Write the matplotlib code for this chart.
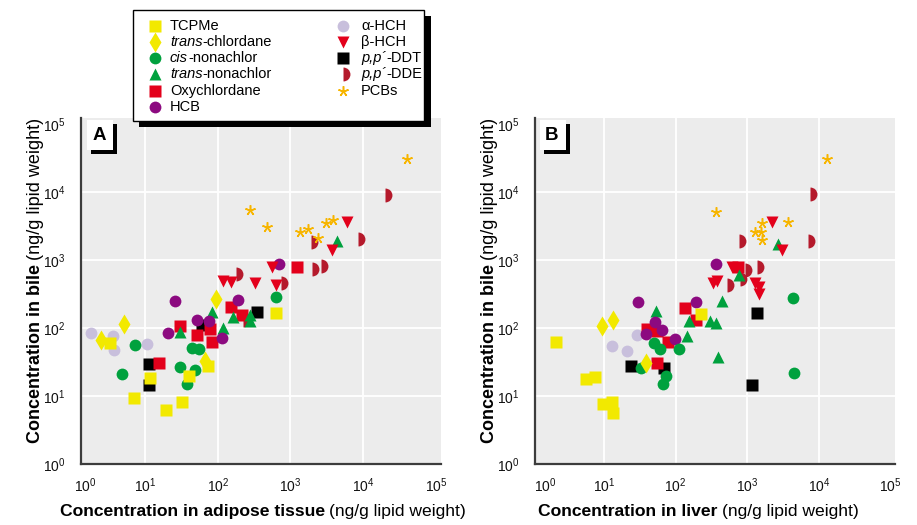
import matplotlib
matplotlib.use('Agg')
import matplotlib.pyplot as plt
from matplotlib.patches import Rectangle
from matplotlib.ticker import FixedLocator, FixedFormatter

FONT = 'Liberation Sans'
plt.rcParams['font.family'] = [FONT, 'DejaVu Sans']
plt.rcParams['mathtext.fontset'] = 'custom'
plt.rcParams['mathtext.rm'] = FONT
plt.rcParams['mathtext.it'] = FONT + ':italic'
plt.rcParams['mathtext.bf'] = FONT + ':bold'

# ---------------- data: panel A (adipose tissue vs bile) ----------------
tcpme_adipose = [634, 3.3, 74, 11.7, 40, 7.1, 32, 19.4]
tcpme_bileA = [166, 60, 27.6, 18.4, 19.7, 9.4, 8.2, 6.2]
tchl_adipose = [95, 5.1, 2.5, 67]
tchl_bileA = [267, 114, 67, 33]
cisn_adipose = [634, 7.3, 44, 55, 4.8, 30, 49, 38]
cisn_bileA = [286, 56, 51, 49, 21, 27, 24, 15]
tnon_adipose = [4375, 84, 162, 278, 278, 118, 30]
tnon_bileA = [1900, 172, 145, 155, 127, 100, 87]
oxy_adipose = [1233, 152, 216, 30, 52, 78, 84, 15.6]
oxy_bileA = [789, 204, 155, 107, 79, 97, 62, 31]
hcb_adipose = [697, 190, 26, 52, 76, 21, 115]
hcb_bileA = [873, 258, 249, 131, 127, 84, 71]
ahch_adipose = [1.8, 3.6, 3.75, 10.7]
ahch_bileA = [84, 76, 47.5, 58]
bhch_adipose = [6000, 3730, 558, 118, 152, 326, 634]
bhch_bileA = [3620, 1400, 789, 491, 475, 459, 429]
ddt_adipose = [348, 61, 11.4, 11.4]
ddt_bileA = [172, 111, 29.5, 14.5]
dde_adipose = [20000, 8510, 1920, 2640, 1980, 179, 743, 223]
dde_bileA = [9035, 2036, 1840, 816, 737, 623, 459, 131]
pcb_adipose = [40200, 278, 476, 1355, 1746, 2400, 3090, 3855]
pcb_bileA = [30550, 5435, 3057, 2582, 2857, 2107, 3500, 3875]

# ---------------- data: panel B (liver vs bile) ----------------
tcpme_liver = [225, 2.14, 5.6, 7.5, 9.7, 12.9, 13.4]
tcpme_bileB = [161, 62, 17.8, 19, 7.6, 8.2, 5.6]
tchl_liver = [9.4, 13.4, 38.5]
tchl_bileB = [107, 131, 30.6]
cisn_liver = [4325, 50, 60, 111, 33, 73, 66.5, 4467]
cisn_bileB = [276, 60, 49, 49, 25.8, 19.7, 15, 21.8]
tnon_liver = [2673, 764, 443, 53, 153, 301, 365, 144, 389]
tnon_bileB = [1719, 602, 249, 178, 127, 127, 119, 76, 37.5]
oxy_liver = [740, 135, 192, 39.8, 54.8, 78, 54.8]
oxy_bileB = [789, 197, 131, 96.7, 90.3, 62.3, 30.6]
hcb_liver = [365, 29.8, 192, 51.4, 64.4, 38.5, 97.7]
hcb_bileB = [873, 241, 241, 122, 93.5, 81.6, 68.9]
ahch_liver = [12.9, 20.9, 28.8]
ahch_bileB = [54.4, 45.9, 78.9]
bhch_liver = [2203, 3040, 610, 331, 377, 1277, 1452, 1452]
bhch_bileB = [3622, 1403, 789, 459, 491, 459, 401, 316]
ddt_liver = [23.8, 68.7, 1361, 1159]
ddt_bileB = [27.6, 25.8, 166, 14.5]
dde_liver = [7464, 764, 7000, 1361, 927, 789, 519]
dde_bileB = [9350, 1903, 1903, 789, 713, 526, 429]
pcb_liver = [12880, 365, 1600, 3680, 1277, 1549, 1600]
pcb_bileB = [30550, 5080, 3500, 3622, 2582, 2582, 1968]

tick_exponents = [0, 1, 2, 3, 4, 5]

# ---------------- styles ----------------
YEL = '#f2e900'
GRN = '#00a13e'
RED = '#e3001b'
DRED = '#b51a2c'
PUR = '#8c0a80'
LAV = '#c8bfdc'
ORA = '#f7b500'

styles = {
    'TCPMe': dict(marker='s', color=YEL, ms=8.2),
    'trans-chlordane': dict(marker='d', color=YEL, ms=10.5),
    'cis-nonachlor': dict(marker='o', color=GRN, ms=8.5),
    'trans-nonachlor': dict(marker='^', color=GRN, ms=8.5),
    'Oxychlordane': dict(marker='s', color=RED, ms=8.2),
    'HCB': dict(marker='o', color=PUR, ms=8.5),
    'a-HCH': dict(marker='o', color=LAV, ms=8.5),
    'b-HCH': dict(marker='v', color=RED, ms=8.5),
    'DDT': dict(marker='s', color='black', ms=8.2),
    'DDE': dict(marker='o', color=DRED, ms=10, fillstyle='right'),
    'PCB': dict(marker=(5, 2, 0), color=ORA, ms=7.5, star=True),
}


def plot_series(ax, x, y, key):
    st = styles[key]
    kw = dict(linestyle='none', marker=st['marker'], markersize=st['ms'])
    if st.get('star'):
        kw.update(markeredgecolor=st['color'], markeredgewidth=1.1)
    else:
        kw.update(markerfacecolor=st['color'], markeredgecolor='none')
    if st.get('fillstyle'):
        kw.update(fillstyle=st['fillstyle'], markerfacecoloralt='none')
    ax.plot(x, y, **kw)


fig = plt.figure(figsize=(9.17, 5.25), dpi=100)
W, H = 917.0, 525.0


def make_axes(left_px, right_px, top_px, bottom_px):
    return fig.add_axes([left_px / W, 1 - bottom_px / H,
                         (right_px - left_px) / W, (bottom_px - top_px) / H])


axA = make_axes(81, 441, 118, 464)
axB = make_axes(535, 895, 118, 464)

panels = [
    (axA, (10 ** 0.12, 10 ** 5.07), [
        (ahch_adipose, ahch_bileA, 'a-HCH'), (ddt_adipose, ddt_bileA, 'DDT'),
        (dde_adipose, dde_bileA, 'DDE'), (oxy_adipose, oxy_bileA, 'Oxychlordane'),
        (tnon_adipose, tnon_bileA, 'trans-nonachlor'), (hcb_adipose, hcb_bileA, 'HCB'),
        (cisn_adipose, cisn_bileA, 'cis-nonachlor'), (tcpme_adipose, tcpme_bileA, 'TCPMe'),
        (tchl_adipose, tchl_bileA, 'trans-chlordane'), (bhch_adipose, bhch_bileA, 'b-HCH'),
        (pcb_adipose, pcb_bileA, 'PCB')]),
    (axB, (10 ** 0.038, 10 ** 5.059), [
        (ahch_liver, ahch_bileB, 'a-HCH'), (ddt_liver, ddt_bileB, 'DDT'),
        (dde_liver, dde_bileB, 'DDE'), (oxy_liver, oxy_bileB, 'Oxychlordane'),
        (tnon_liver, tnon_bileB, 'trans-nonachlor'), (hcb_liver, hcb_bileB, 'HCB'),
        (cisn_liver, cisn_bileB, 'cis-nonachlor'), (tcpme_liver, tcpme_bileB, 'TCPMe'),
        (tchl_liver, tchl_bileB, 'trans-chlordane'), (bhch_liver, bhch_bileB, 'b-HCH'),
        (pcb_liver, pcb_bileB, 'PCB')]),
]

for ax, xl, series in panels:
    ax.set_facecolor('#ececec')
    ax.set_xscale('log')
    ax.set_yscale('log')
    ax.set_xlim(*xl)
    ax.set_ylim(1, 10 ** 5.088)
    for s in ['top', 'right']:
        ax.spines[s].set_visible(False)
    for s in ['left', 'bottom']:
        ax.spines[s].set_color('#3c3c3c')
        ax.spines[s].set_linewidth(1.6)
    labels = ['$10^{%d}$' % e for e in tick_exponents]
    ax.xaxis.set_major_locator(FixedLocator([10.0 ** e for e in tick_exponents[1:]]))
    ax.xaxis.set_major_formatter(FixedFormatter(labels[1:]))
    ax.xaxis.set_minor_locator(FixedLocator([10 ** 0.175]))
    ax.xaxis.set_minor_formatter(FixedFormatter(labels[:1]))
    ax.yaxis.set_major_locator(FixedLocator([10.0 ** e for e in tick_exponents]))
    ax.yaxis.set_major_formatter(FixedFormatter(labels))
    ax.yaxis.set_minor_locator(FixedLocator([]))
    ax.tick_params(axis='both', which='both', length=0, labelsize=10, colors='#111111')
    ax.tick_params(axis='x', which='both', pad=9)
    ax.tick_params(axis='y', which='both', pad=11)
    ax.grid(True, which='major', color='white', linewidth=1.3)
    ax.set_axisbelow(True)
    xg = ax.get_xgridlines()
    xg[-1].set_visible(False)
    yg = ax.get_ygridlines()
    yg[-1].set_visible(False)
    yg[0].set_visible(False)
    for x, y, key in series:
        plot_series(ax, x, y, key)

# ---------------- overlay in pixel coordinates ----------------
ov = fig.add_axes([0, 0, 1, 1], zorder=10)
ov.set_xlim(0, W)
ov.set_ylim(H, 0)
ov.axis('off')
ov.patch.set_alpha(0)

# panel labels with drop shadow
for (bx, by), lab in [((87, 120), 'A'), ((540, 120), 'B')]:
    ov.add_patch(Rectangle((bx + 4, by + 4), 26, 30, facecolor='black', edgecolor='none'))
    ov.add_patch(Rectangle((bx, by), 26, 30, facecolor='white', edgecolor='none'))
    ov.text(bx + 12, by + 15, lab, fontsize=13.5, fontweight='bold', ha='center', va='center')

# legend box with shadow
ov.add_patch(Rectangle((139, 16), 292, 111, facecolor='black', edgecolor='none'))
ov.add_patch(Rectangle((133, 10), 291, 111, facecolor='white', edgecolor='black', linewidth=1.0))

legend_col1 = [('TCPMe', None, 'TCPMe'), ('trans-chlordane', 'trans', '-chlordane'),
               ('cis-nonachlor', 'cis', '-nonachlor'), ('trans-nonachlor', 'trans', '-nonachlor'),
               ('Oxychlordane', None, 'Oxychlordane'), ('HCB', None, 'HCB')]
legend_col2 = [('a-HCH', None, '\u03b1-HCH'), ('b-HCH', None, '\u03b2-HCH'),
               ('DDT', 'p,p\u00b4', '-DDT'), ('DDE', 'p,p\u00b4', '-DDE'),
               ('PCB', None, 'PCBs')]

LFS = 10.5
for (mx, tx, entries) in [(155, 170, legend_col1), (343, 361, legend_col2)]:
    for i, (key, ital, rest) in enumerate(entries):
        yy = 25.5 + 16.3 * i
        plot_series(ov, [mx], [yy], key)
        if ital:
            t1 = ov.text(tx, yy, ital, fontsize=LFS, style='italic', va='center', ha='left')
            ov.annotate(rest, xy=(1, 0), xycoords=t1, va='bottom', ha='left', fontsize=LFS)
        else:
            ov.text(tx, yy, rest, fontsize=LFS, va='center', ha='left')

# axis labels (bold part + regular part)
XFS = 12.6
YFS = 13
for (x0, y0, bold, reg) in [(60, 516, 'Concentration in adipose tissue', '(ng/g lipid weight)'),
                            (538, 516, 'Concentration in liver', '(ng/g lipid weight)')]:
    t1 = ov.text(x0, y0, bold, fontsize=XFS, fontweight='bold', ha='left', va='baseline')
    ov.annotate(reg, xy=(1, 0), xycoords=t1, xytext=(3, 0), textcoords='offset points',
                va='bottom', ha='left', fontsize=XFS)

for (x0, y0) in [(40, 443), (494, 443)]:
    t1 = ov.text(x0, y0, 'Concentration in bile', fontsize=YFS, fontweight='bold', rotation=90,
                 rotation_mode='anchor', ha='left', va='baseline')
    ov.annotate('(ng/g lipid weight)', xy=(1, 1), xycoords=t1, xytext=(0, 3),
                textcoords='offset points', rotation=90, va='bottom', ha='right', fontsize=YFS)

fig.savefig('out.png', dpi=100)
